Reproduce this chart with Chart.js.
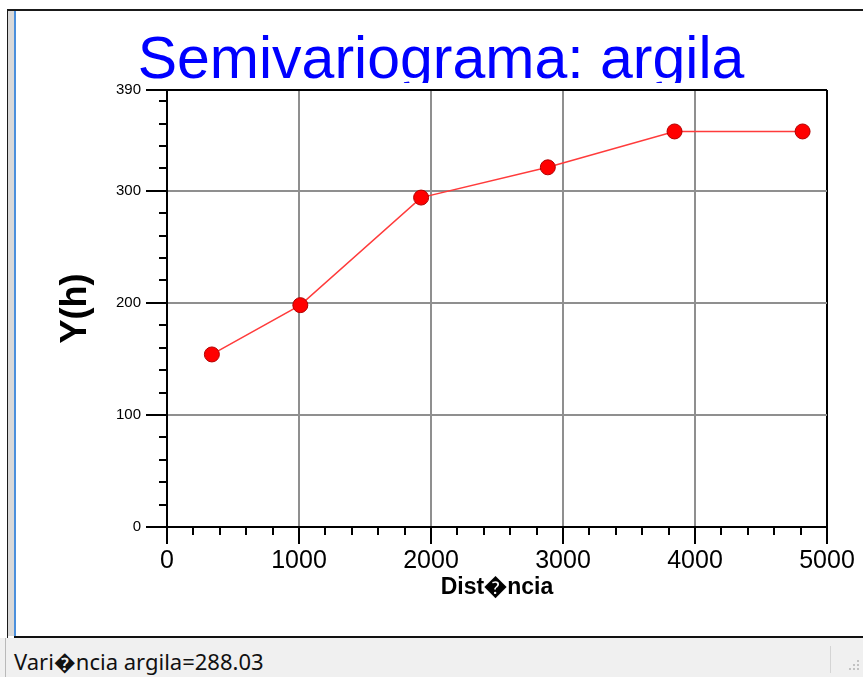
<!DOCTYPE html>
<html>
<head>
<meta charset="utf-8">
<title>Semivariograma: argila</title>
<script src="https://cdn.jsdelivr.net/npm/chart.js@4.4.1/dist/chart.umd.min.js"></script>
<style>
  body { margin: 0; width: 863px; height: 677px; background: #fff; overflow: hidden; position: relative; }
  .abs { position: absolute; }
  #top-line { left: 7px; top: 9px; width: 856px; height: 2px; background: #1a1a1a; }
  #left-line { left: 7px; top: 9px; width: 1px; height: 629px; background: #1a1a1a; }
  #left-strip { left: 8px; top: 11px; width: 6px; height: 625px; background: #d9d9d9; }
  #blue-line { left: 14px; top: 11px; width: 2px; height: 625px; background: #4a8fdc; }
  #chart-box { left: 16px; top: 11px; width: 847px; height: 625px; }
  #bottom-line { left: 14px; top: 636px; width: 849px; height: 2px; background: #111; }
  #status { left: 0; top: 638px; width: 863px; height: 39px; background: #f0f0f0; }
  #status-edge { left: 5px; top: 638px; width: 1px; height: 39px; background: #b9b9b9; }
  #status-text { left: 14px; top: 646px; font-family: "Noto Sans", sans-serif; font-size: 22px; line-height: 30px; color: #111; white-space: nowrap; }
  #status-divider { left: 830px; top: 646px; width: 1px; height: 27px; background: #d4d4d4; }
  .grip { width: 2px; height: 2px; background: #c2c2c2; }
</style>
</head>
<body>
<div class="abs" id="top-line"></div>
<div class="abs" id="left-line"></div>
<div class="abs" id="left-strip"></div>
<div class="abs" id="blue-line"></div>
<div class="abs" id="chart-box"><canvas id="graph" width="847" height="625"></canvas></div>
<div class="abs" id="bottom-line"></div>
<div class="abs" id="status"></div>
<div class="abs" id="status-edge"></div>
<div class="abs" id="status-text">Vari&#xFFFD;ncia argila=288.03</div>
<div class="abs" id="status-divider"></div>
<div class="abs grip" style="left:857px;top:660px"></div>
<div class="abs grip" style="left:853px;top:664px"></div>
<div class="abs grip" style="left:857px;top:664px"></div>
<div class="abs grip" style="left:849px;top:668px"></div>
<div class="abs grip" style="left:853px;top:668px"></div>
<div class="abs grip" style="left:857px;top:668px"></div>
<script>
// semivariogram points
const distancias = [340, 1010, 1925, 2885, 3845, 4815];
const semivariancia = [154, 198, 294, 321, 353, 353];

const xTicks = [0, 1000, 2000, 3000, 4000, 5000];
const yTicks = [0, 100, 200, 300, 390];
const xMinorTicks = [200, 400, 600, 800, 1200, 1400, 1600, 1800, 2200, 2400, 2600, 2800,
                     3200, 3400, 3600, 3800, 4200, 4400, 4600, 4800];
const yMinorTicks = [20, 40, 60, 80, 120, 140, 160, 180, 220, 240, 260, 280, 320, 340, 360, 380];

const chartTitle = "Semivariograma: argila";
const xTitle = "Dist\uFFFDncia";
const yTitle = "Y(h)";

const points = distancias.map((d, i) => ({ x: d, y: semivariancia[i] }));

// big blue title, cut off at the bottom like in the original window
const titlePlugin = {
    id: 'clippedTitle',
    afterDraw(chart) {
        const ctx = chart.ctx;
        ctx.save();
        ctx.beginPath();
        ctx.rect(0, 0, chart.width, 72);
        ctx.clip();
        ctx.fillStyle = '#0000ff';
        ctx.font = '59px "Liberation Sans", Arial, sans-serif';
        ctx.textAlign = 'center';
        ctx.textBaseline = 'alphabetic';
        ctx.fillText(chartTitle, 425, 67);
        ctx.restore();
    }
};

// short minor tick marks outside the plot frame
const minorTickPlugin = {
    id: 'minorTicks',
    afterDraw(chart) {
        const ctx = chart.ctx;
        const xs = chart.scales.x;
        const ys = chart.scales.y;
        const area = chart.chartArea;
        ctx.save();
        ctx.strokeStyle = '#000';
        ctx.lineWidth = 2;
        ctx.beginPath();
        xMinorTicks.forEach(v => {
            const px = Math.round(xs.getPixelForValue(v));
            ctx.moveTo(px, area.bottom);
            ctx.lineTo(px, area.bottom + 8);
        });
        yMinorTicks.forEach(v => {
            const py = Math.round(ys.getPixelForValue(v));
            ctx.moveTo(area.left - 8, py);
            ctx.lineTo(area.left, py);
        });
        ctx.stroke();
        ctx.restore();
    }
};

const ctx = document.getElementById('graph');
new Chart(ctx, {
    type: 'line',
    data: {
        datasets: [{
            data: points,
            borderColor: '#ff3b3b',
            borderWidth: 1.5,
            pointRadius: 7.5,
            pointBackgroundColor: '#ff0000',
            pointBorderColor: '#b00000',
            pointBorderWidth: 1,
            tension: 0,
            clip: false
        }]
    },
    options: {
        responsive: false,
        animation: false,
        layout: {
            padding: { top: 79, right: 36, left: 0, bottom: 0 }
        },
        plugins: {
            legend: { display: false },
            tooltip: { enabled: false }
        },
        scales: {
            x: {
                type: 'linear',
                min: 0,
                max: 5000,
                afterBuildTicks: (scale) => { scale.ticks = xTicks.map(v => ({ value: v })); },
                afterFit: (scale) => {
                    scale.height = 109;
                    scale.paddingLeft = 0;
                    scale.paddingRight = 0;
                },
                grid: {
                    color: (c) => c.tick && c.tick.value === 5000 ? '#000' : (c.tick && c.tick.value === 0 ? 'rgba(0,0,0,0)' : '#8f8f8f'),
                    lineWidth: 2,
                    tickColor: '#000',
                    tickLength: 17
                },
                border: { color: '#000', width: 2 },
                ticks: {
                    color: '#000',
                    padding: 2,
                    maxRotation: 0,
                    callback: (v) => String(v),
                    font: { family: '"Liberation Sans", Arial, sans-serif', size: 25 }
                },
                title: {
                    display: true,
                    text: xTitle,
                    color: '#000',
                    font: { family: '"Liberation Sans", Arial, sans-serif', size: 23, weight: 'bold' },
                    padding: { top: 0, bottom: 35 }
                }
            },
            y: {
                min: 0,
                max: 390,
                afterBuildTicks: (scale) => { scale.ticks = yTicks.map(v => ({ value: v })); },
                afterFit: (scale) => {
                    scale.width = 151;
                    scale.paddingTop = 0;
                    scale.paddingBottom = 0;
                },
                grid: {
                    color: (c) => c.tick && c.tick.value === 390 ? '#000' : (c.tick && c.tick.value === 0 ? 'rgba(0,0,0,0)' : '#8f8f8f'),
                    lineWidth: 2,
                    tickColor: '#000',
                    tickLength: 21
                },
                border: { color: '#000', width: 2 },
                ticks: {
                    color: '#000',
                    padding: 5,
                    callback: (v) => String(v),
                    font: { family: '"Liberation Sans", Arial, sans-serif', size: 15 }
                },
                title: {
                    display: true,
                    text: yTitle,
                    color: '#000',
                    font: { family: '"Liberation Sans", Arial, sans-serif', size: 36, weight: 'bold' },
                    padding: { top: 38, bottom: 0 }
                }
            }
        }
    },
    plugins: [titlePlugin, minorTickPlugin]
});
</script>
</body>
</html>
